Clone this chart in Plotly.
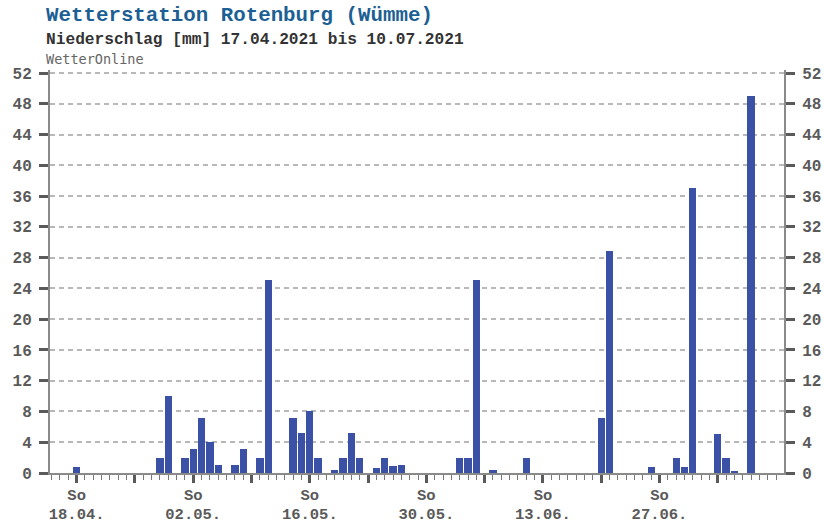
import pandas as pd
import plotly.graph_objects as go

# ---- data ----
start_date = "2021-04-17"
end_date = "2021-07-10"
precip_mm = [
    0.0, 0.8, 0.0, 0.0, 0.0, 0.0, 0.0, 0.0, 0.0, 0.0,   # 17.04 - 26.04
    0.0, 2.0, 10.0, 0.0, 2.0, 3.1, 7.1, 4.0, 1.1, 0.0,  # 27.04 - 06.05
    1.1, 3.1, 0.0, 2.0, 25.1, 0.0, 0.0, 7.1, 5.2, 8.0,  # 07.05 - 16.05
    2.0, 0.0, 0.4, 2.0, 5.2, 2.0, 0.0, 0.6, 2.0, 0.9,   # 17.05 - 26.05
    1.1, 0.0, 0.0, 0.0, 0.0, 0.0, 0.0, 2.0, 2.0, 25.1,  # 27.05 - 05.06
    0.0, 0.4, 0.0, 0.0, 0.0, 2.0, 0.0, 0.0, 0.0, 0.0,   # 06.06 - 15.06
    0.0, 0.0, 0.0, 0.0, 7.1, 28.9, 0.0, 0.0, 0.0, 0.0,  # 16.06 - 25.06
    0.8, 0.0, 0.0, 2.0, 0.8, 37.0, 0.0, 0.0, 5.1, 2.0,  # 26.06 - 05.07
    0.3, 0.0, 49.0, 0.0, 0.0,                           # 06.07 - 10.07
]
sunday_ticks = ["2021-04-18", "2021-04-25", "2021-05-02", "2021-05-09", "2021-05-16",
                "2021-05-23", "2021-05-30", "2021-06-06", "2021-06-13", "2021-06-20",
                "2021-06-27", "2021-07-04"]
date_labels = ["18.04.", "", "02.05.", "", "16.05.", "",
               "30.05.", "", "13.06.", "", "27.06.", ""]
weekday_labels = ["So", "", "So", "", "So", "",
                  "So", "", "So", "", "So", ""]
y_ticks = list(range(0, 53, 4))

title_text = "Wetterstation Rotenburg (Wümme)"
subtitle_text = "Niederschlag [mm] 17.04.2021 bis 10.07.2021"
source_text = "WetterOnline"

dates = pd.date_range(start_date, end_date, freq="D")

BAR = "#3a51a5"
AX = "#5a5a5a"
FONT = "Liberation Mono"
XRANGE = ["2021-04-14 19:12", "2021-07-11 22:48"]
YRANGE = [0, 52.4]

fig = go.Figure()
fig.add_trace(go.Bar(
    x=dates, y=precip_mm,
    marker=dict(color=BAR, line=dict(width=0)),
    width=86400000 * 0.88,
    hoverinfo="x+y",
))
# invisible trace for the second (weekday) x axis and mirrored right axis
fig.add_trace(go.Scatter(x=[dates[0]], y=[0], xaxis="x2", yaxis="y2", mode="markers",
                         marker=dict(opacity=0), showlegend=False, hoverinfo="skip"))

tickfont = dict(family=FONT, size=16, color=AX, weight="bold")
xtickfont = dict(family=FONT, size=15.5, color=AX, weight="bold")

fig.update_layout(
    width=824, height=523,
    margin=dict(l=50, r=40, t=70, b=50, autoexpand=False),
    paper_bgcolor="white", plot_bgcolor="white",
    showlegend=False,
    bargap=0,
    xaxis=dict(
        type="date", range=XRANGE, automargin=False,
        tickvals=sunday_ticks, ticktext=date_labels,
        ticks="outside", ticklen=8, tickwidth=3, tickcolor=AX,
        tickfont=xtickfont, ticklabelstandoff=17,
        showgrid=False, zeroline=False,
        showline=True, linecolor="#8a8a8a", linewidth=2,
        minor=dict(dtick=86400000, tick0=start_date, ticks="outside",
                   ticklen=5, tickwidth=1, tickcolor="#777", showgrid=False),
        fixedrange=True,
    ),
    xaxis2=dict(
        type="date", range=XRANGE, automargin=False,
        overlaying="x", side="bottom", anchor="y",
        tickvals=sunday_ticks, ticktext=weekday_labels,
        ticks="", tickfont=xtickfont, ticklabelstandoff=10,
        showgrid=False, zeroline=False, showline=False,
        fixedrange=True,
    ),
    yaxis=dict(
        range=YRANGE, tickvals=y_ticks, automargin=False,
        ticks="outside", ticklen=9, tickwidth=3, tickcolor=AX,
        tickfont=tickfont, ticklabelstandoff=4,
        showgrid=True, gridcolor="#b8b8b8", gridwidth=1.5, griddash="5px,4px",
        zeroline=False,
        showline=True, linecolor="#8a8a8a", linewidth=2,
        fixedrange=True,
    ),
    yaxis2=dict(
        overlaying="y", side="right", anchor="x", range=YRANGE, tickvals=y_ticks,
        automargin=False,
        ticks="outside", ticklen=9, tickwidth=3, tickcolor=AX,
        tickfont=tickfont, ticklabelstandoff=4,
        showgrid=False, zeroline=False,
        showline=True, linecolor="#8a8a8a", linewidth=2,
        fixedrange=True,
    ),
    annotations=[
        dict(text=title_text, xref="paper", yref="paper", x=0, y=1,
             xanchor="left", yanchor="middle", xshift=-6, yshift=55, showarrow=False,
             font=dict(family=FONT, size=20.8, color="#1d5f94", weight="bold")),
        dict(text=subtitle_text, xref="paper", yref="paper", x=0, y=1,
             xanchor="left", yanchor="middle", xshift=-6, yshift=30, showarrow=False,
             font=dict(family=FONT, size=16.2, color="#333333", weight="bold")),
        dict(text=source_text, xref="paper", yref="paper", x=0, y=1,
             xanchor="left", yanchor="middle", xshift=-6, yshift=11, showarrow=False,
             font=dict(family="DejaVu Sans Mono", size=13.5, color="#666666")),
    ],
)

fig.write_html(
    "out.html",
    config={"displayModeBar": False},
    post_script="document.body.style.margin='0px';document.body.style.overflow='hidden';",
)
